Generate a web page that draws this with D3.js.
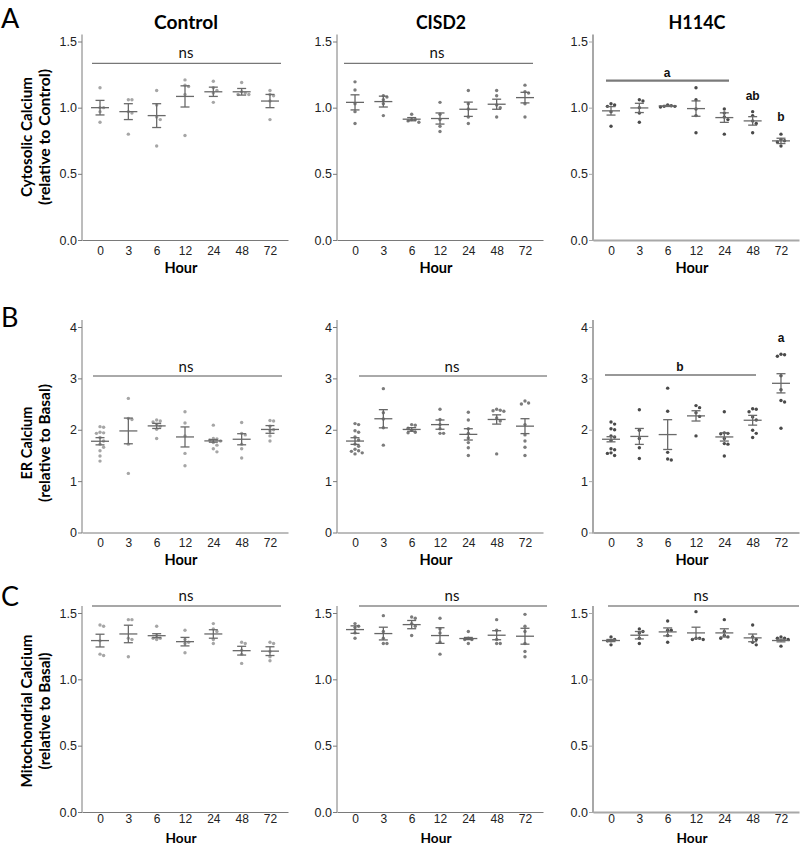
<!DOCTYPE html>
<html><head><meta charset="utf-8">
<script src="https://cdn.jsdelivr.net/npm/d3@7/dist/d3.min.js"></script>
<style>body{margin:0;background:#fff}</style>
</head><body>
<svg id="chart" width="800" height="847"></svg>
<script>
// ---------------- DATA ----------------
const hours = ["0","3","6","12","24","48","72"];
const groups = ["Control","CISD2","H114C"];
const measureLabels = ["Cytosolic Calcium","ER Calcium","Mitochondrial Calcium"];
const measureSubLabels = ["(relative to Control)","(relative to Basal)","(relative to Basal)"];
const panelLetters = ["A","B","C"];
const yTickValues = [[0,0.5,1.0,1.5],[0,1,2,3,4],[0,0.5,1.0,1.5]];
const yMaxValues = [1.5,4,1.5];
const xAxisTitle = "Hour";

// Cytosolic calcium
const cytoControlMean = [1.00,0.97,0.94,1.085,1.12,1.12,1.05];
const cytoControlSem  = [0.055,0.06,0.09,0.08,0.035,0.025,0.05];
const cytoControlPts  = [[1.15,1.00,1.00,0.97,0.89],[1.06,1.06,0.97,0.96,0.80],[1.13,1.02,0.93,0.91,0.71],[1.21,1.17,1.16,1.10,0.79],[1.20,1.15,1.13,1.11,1.04],[1.19,1.12,1.11,1.10,1.10],[1.13,1.10,1.09,1.05,0.91]];
const cytoCisd2Mean = [1.04,1.046,0.913,0.918,0.988,1.026,1.076];
const cytoCisd2Sem  = [0.057,0.041,0.012,0.042,0.054,0.038,0.04];
const cytoCisd2Pts  = [[1.195,1.134,1.03,0.97,0.88],[1.09,1.08,1.06,1.03,0.94],[0.95,0.91,0.91,0.90,0.89],[1.04,0.95,0.91,0.86,0.82],[1.13,1.03,0.99,0.93,0.88],[1.13,1.09,1.02,1.00,0.93],[1.17,1.12,1.11,1.03,0.93]];
const cytoH114cMean = [0.976,0.998,1.013,0.993,0.925,0.90,0.749];
const cytoH114cSem  = [0.032,0.035,0.004,0.058,0.036,0.032,0.02];
const cytoH114cPts  = [[1.03,1.02,1.01,0.97,0.86],[1.06,1.05,1.00,0.96,0.89],[1.02,1.015,1.01,1.01,1.005],[1.15,1.06,0.99,0.94,0.81],[0.99,0.96,0.93,0.91,0.80],[0.97,0.94,0.90,0.88,0.81],[0.80,0.76,0.75,0.74,0.71]];

// ER calcium
const erControlMean = [1.776,1.977,2.075,1.86,1.783,1.815,2.006];
const erControlSem  = [0.07,0.25,0.05,0.195,0.025,0.108,0.075];
const erControlPts  = [[2.06,2.05,1.95,1.94,1.93,1.85,1.78,1.72,1.66,1.59,1.49,1.39],[2.61,2.22,2.20,1.72,1.15],[2.19,2.17,2.15,2.10,2.07,2.01,1.83],[2.35,2.13,1.88,1.54,1.30],[2.09,1.83,1.82,1.80,1.78,1.75,1.70,1.63,1.57],[2.14,1.93,1.90,1.72,1.63,1.45],[2.18,2.17,2.07,2.00,1.98,1.88,1.78]];
const erCisd2Mean = [1.78,2.214,2.006,2.10,1.91,2.20,2.07];
const erCisd2Sem  = [0.065,0.177,0.035,0.09,0.11,0.09,0.145];
const erCisd2Pts  = [[2.12,2.10,1.98,1.95,1.86,1.80,1.72,1.68,1.62,1.59,1.58,1.55,1.53],[2.80,2.33,2.21,2.04,1.70],[2.10,2.09,2.03,1.99,1.95,1.94],[2.40,2.20,2.10,2.02,1.93,1.93],[2.34,2.19,2.02,1.93,1.84,1.75,1.65,1.50],[2.40,2.38,2.37,2.36,2.23,2.17,1.53],[2.56,2.52,2.50,2.10,1.90,1.78,1.66,1.50]];
const erH114cMean = [1.815,1.87,1.906,2.27,1.86,2.185,2.904];
const erH114cSem  = [0.05,0.155,0.29,0.10,0.08,0.095,0.187];
const erH114cPts  = [[2.15,2.11,2.02,2.00,1.88,1.86,1.79,1.63,1.61,1.55,1.54,1.50],[2.39,1.99,1.83,1.65,1.44],[2.81,2.36,1.56,1.43,1.41],[2.47,2.43,2.33,2.26,1.88],[2.35,1.94,1.93,1.92,1.83,1.73,1.72,1.49],[2.41,2.40,2.35,2.25,2.19,1.99,1.93,1.85],[3.47,3.46,3.43,3.05,2.78,2.57,2.54,2.03]];

// Mitochondrial calcium
const mitoControlMean = [1.292,1.342,1.329,1.284,1.342,1.216,1.2125];
const mitoControlSem  = [0.048,0.066,0.015,0.032,0.032,0.033,0.033];
const mitoControlPts  = [[1.41,1.40,1.29,1.19,1.18],[1.45,1.45,1.31,1.30,1.17],[1.40,1.33,1.31,1.31,1.30],[1.37,1.30,1.28,1.27,1.20],[1.42,1.38,1.36,1.30,1.27],[1.28,1.27,1.22,1.19,1.12],[1.28,1.27,1.21,1.17,1.14]];
const mitoCisd2Mean = [1.375,1.345,1.4125,1.33,1.3075,1.3325,1.325];
const mitoCisd2Sem  = [0.028,0.048,0.031,0.059,0.008,0.034,0.06];
const mitoCisd2Pts  = [[1.42,1.40,1.39,1.35,1.31],[1.48,1.36,1.31,1.27,1.27],[1.47,1.46,1.42,1.40,1.33],[1.46,1.38,1.35,1.28,1.19],[1.36,1.31,1.30,1.30,1.27],[1.45,1.37,1.30,1.27,1.27],[1.49,1.40,1.36,1.27,1.21,1.17]];
const mitoH114cMean = [1.2925,1.3325,1.3575,1.35,1.35,1.3125,1.2925];
const mitoH114cSem  = [0.008,0.028,0.03,0.043,0.031,0.029,0.01];
const mitoH114cPts  = [[1.32,1.30,1.29,1.29,1.26],[1.38,1.36,1.35,1.31,1.27],[1.44,1.37,1.37,1.33,1.28],[1.51,1.31,1.31,1.30,1.30],[1.45,1.36,1.33,1.32,1.31],[1.41,1.32,1.30,1.28,1.26],[1.32,1.31,1.31,1.30,1.25]];

// significance labels
const sigLabels = [["ns","ns","a"],["ns","ns","b"],["ns","ns","ns"]];
const extraSigLabels = [[[],[],[{hour:"48",text:"ab"},{hour:"72",text:"b"}]],[[],[],[{hour:"72",text:"a"}]],[[],[],[]]];

const panelData = [
  [[cytoControlMean,cytoControlSem,cytoControlPts],[cytoCisd2Mean,cytoCisd2Sem,cytoCisd2Pts],[cytoH114cMean,cytoH114cSem,cytoH114cPts]],
  [[erControlMean,erControlSem,erControlPts],[erCisd2Mean,erCisd2Sem,erCisd2Pts],[erH114cMean,erH114cSem,erH114cPts]],
  [[mitoControlMean,mitoControlSem,mitoControlPts],[mitoCisd2Mean,mitoCisd2Sem,mitoCisd2Pts],[mitoH114cMean,mitoH114cSem,mitoH114cPts]]
];

// ---------------- LAYOUT ----------------
const colX = [82, 337, 593];
const axisW = 206;
const rowY0 = [240, 532.5, 812];
const rowYTop = [41.5, 327, 613];
const tickPad = [6, 6, 2];
const hourBase = [272.5, 565, 843.2];
const hourSize = [16, 16, 14];
const hourLen = [33, 33, 31];
const titleFont = "Lato, 'Open Sans', sans-serif";
const tickFont = "'Liberation Sans', Arial, sans-serif";
const styles = [
  {axis:"#7a7a7a", axisW:1, dot:"#a6a6a6", line:"#6a6a6a"},
  {axis:"#7a7a7a", axisW:1, dot:"#7c7c7c", line:"#666"},
  {axis:"#a8a8a8", axisW:2, dot:"#4a4a4a", line:"#6a6a6a"}
];
const sigGeom = [
  [{x0:92,x1:281,y:63.3,tx:186,ty:58,c:"#555",w:1,bold:false},{x0:344,x1:533,y:63.3,tx:437,ty:58,c:"#555",w:1,bold:false},{x0:606,x1:729,y:80.7,tx:667,ty:77,c:"#7a7a7a",w:2.2,bold:true}],
  [{x0:93,x1:282,y:376,tx:186,ty:372,c:"#555",w:1,bold:false},{x0:359,x1:547,y:376,tx:452,ty:372,c:"#555",w:1,bold:false},{x0:605,x1:756,y:375,tx:680,ty:371,c:"#333",w:1.2,bold:true}],
  [{x0:92,x1:281,y:606,tx:186,ty:601,c:"#8a8a8a",w:1.6,bold:false},{x0:359,x1:547,y:606,tx:452,ty:601,c:"#8a8a8a",w:1.6,bold:false},{x0:608,x1:799,y:606,tx:701,ty:601,c:"#8a8a8a",w:1.6,bold:false}]
];
const extraOffsets = [[[],[],[{dy:-4},{dy:-5}]],[[],[],[{dy:-4}]],[[],[],[]]];
const titleLens = [64, 50, 57];
const yLabelLens = [[120,136],[73,118],[153,117]];
const yLabelCY = [137, 443, 711];

const svg = d3.select("#chart");

groups.forEach((g,ci)=>{
  svg.append("text").attr("x", colX[ci]+axisW/2+1).attr("y", 29.3)
    .attr("text-anchor","middle").attr("font-family",titleFont).attr("font-weight","bold")
    .attr("font-size",19).attr("fill","#000")
    .attr("textLength",titleLens[ci]).attr("lengthAdjust","spacingAndGlyphs").text(g);
});

const letterBase = [28, 327, 606];
panelLetters.forEach((L,ri)=>{
  svg.append("text").attr("x",1).attr("y",letterBase[ri]).attr("font-family",titleFont)
    .attr("font-size",27).attr("fill","#000").text(L);
});

measureLabels.forEach((m,ri)=>{
  const cy = yLabelCY[ri];
  svg.append("text").attr("transform",`translate(32,${cy}) rotate(-90)`)
    .attr("text-anchor","middle").attr("font-family",titleFont).attr("font-weight","bold")
    .attr("font-size",14.5).attr("fill","#000")
    .attr("textLength",yLabelLens[ri][0]).attr("lengthAdjust","spacingAndGlyphs").text(m);
  svg.append("text").attr("transform",`translate(50,${cy}) rotate(-90)`)
    .attr("text-anchor","middle").attr("font-family",titleFont).attr("font-weight","bold")
    .attr("font-size",14.5).attr("fill","#000")
    .attr("textLength",yLabelLens[ri][1]).attr("lengthAdjust","spacingAndGlyphs").text(measureSubLabels[ri]);
});

function swarm(ys, minD){
  const order = ys.map((v,i)=>i).sort((a,b)=>ys[a]-ys[b]);
  const placed = [];
  const off = new Array(ys.length).fill(0);
  const seq=[0];
  for(let k=1;k<10;k++){seq.push(k*minD);seq.push(-k*minD);}
  order.forEach(i=>{
    let chosen=0;
    for(const c of seq){
      if(placed.every(p=>Math.hypot(p.x-c,p.y-ys[i])>=minD)){chosen=c;break;}
    }
    off[i]=chosen; placed.push({x:chosen,y:ys[i]});
  });
  return off;
}

for(let ri=0;ri<3;ri++){
  for(let ci=0;ci<3;ci++){
    const st = styles[ci];
    const ax = colX[ci];
    const x = d3.scalePoint().domain(hours).range([ax, ax+axisW]).padding(0.636);
    const y = d3.scaleLinear().domain([0,yMaxValues[ri]]).range([rowY0[ri], rowYTop[ri]]);
    const g = svg.append("g");
    const ya = g.append("g").attr("transform",`translate(${ax},0)`)
      .call(d3.axisLeft(y).tickValues(yTickValues[ri]).tickFormat(ri===1?d3.format("d"):d3.format(".1f"))
        .tickSize(4).tickPadding(1).tickSizeOuter(0));
    ya.select(".domain").remove();
    ya.selectAll("line").attr("stroke",st.axis).attr("stroke-width",1);
    ya.selectAll("text").attr("font-family",tickFont).attr("font-size",12.5).attr("fill","#222");
    g.append("line").attr("x1",ax).attr("x2",ax).attr("y1",rowY0[ri]+(st.axisW>1?1:0.5)).attr("y2",rowYTop[ri]-7)
      .attr("stroke",st.axis).attr("stroke-width",st.axisW);
    const xa = g.append("g").attr("transform",`translate(0,${rowY0[ri]})`)
      .call(d3.axisBottom(x).tickSize(0).tickPadding(tickPad[ri]).tickSizeOuter(0));
    xa.select(".domain").attr("stroke",st.axis).attr("stroke-width",st.axisW);
    xa.selectAll("text").attr("font-family",tickFont).attr("font-size",12).attr("fill","#222");
    g.append("text").attr("x", ax+axisW/2-4).attr("y", hourBase[ri]).attr("text-anchor","middle")
      .attr("font-family",titleFont).attr("font-weight","bold").attr("font-size",hourSize[ri]).attr("fill","#000")
      .attr("textLength",hourLen[ri]).attr("lengthAdjust","spacingAndGlyphs").text(xAxisTitle);

    const [means, sems, pts] = panelData[ri][ci];
    hours.forEach((h,hi)=>{
      const ys = pts[hi].map(v=>y(v));
      const offs = swarm(ys, 3.6);
      g.selectAll(null).data(pts[hi]).enter().append("circle")
        .attr("cx",(d,i)=>x(h)+offs[i]).attr("cy",d=>y(d)).attr("r",1.7).attr("fill",st.dot);
    });
    hours.forEach((h,hi)=>{
      const cx = x(h), m = means[hi], s = sems[hi];
      const eb = g.append("g").attr("stroke",st.line).attr("stroke-width",1.3).attr("fill","none");
      eb.append("line").attr("x1",cx-9).attr("x2",cx+9).attr("y1",y(m)).attr("y2",y(m));
      eb.append("line").attr("x1",cx).attr("x2",cx).attr("y1",y(m+s)).attr("y2",y(m-s));
      eb.append("line").attr("x1",cx-4.5).attr("x2",cx+4.5).attr("y1",y(m+s)).attr("y2",y(m+s));
      eb.append("line").attr("x1",cx-4.5).attr("x2",cx+4.5).attr("y1",y(m-s)).attr("y2",y(m-s));
    });
    const sg = sigGeom[ri][ci];
    g.append("line").attr("x1",sg.x0).attr("x2",sg.x1).attr("y1",sg.y).attr("y2",sg.y)
      .attr("stroke",sg.c).attr("stroke-width",sg.w);
    g.append("text").attr("x",sg.tx).attr("y",sg.ty).attr("text-anchor","middle")
      .attr("font-family",sg.bold?tickFont:titleFont).attr("font-weight",sg.bold?"bold":"normal")
      .attr("font-size",sg.bold?12:15).attr("fill","#111").text(sigLabels[ri][ci]);
    extraSigLabels[ri][ci].forEach((e,k)=>{
      const hi = hours.indexOf(e.hour);
      const top = d3.max(pts[hi]);
      g.append("text").attr("x",x(e.hour)).attr("y",y(top)-8+extraOffsets[ri][ci][k].dy)
        .attr("text-anchor","middle").attr("font-family",tickFont).attr("font-weight","bold")
        .attr("font-size",12).attr("fill","#111").text(e.text);
    });
  }
}
</script>
</body></html>
